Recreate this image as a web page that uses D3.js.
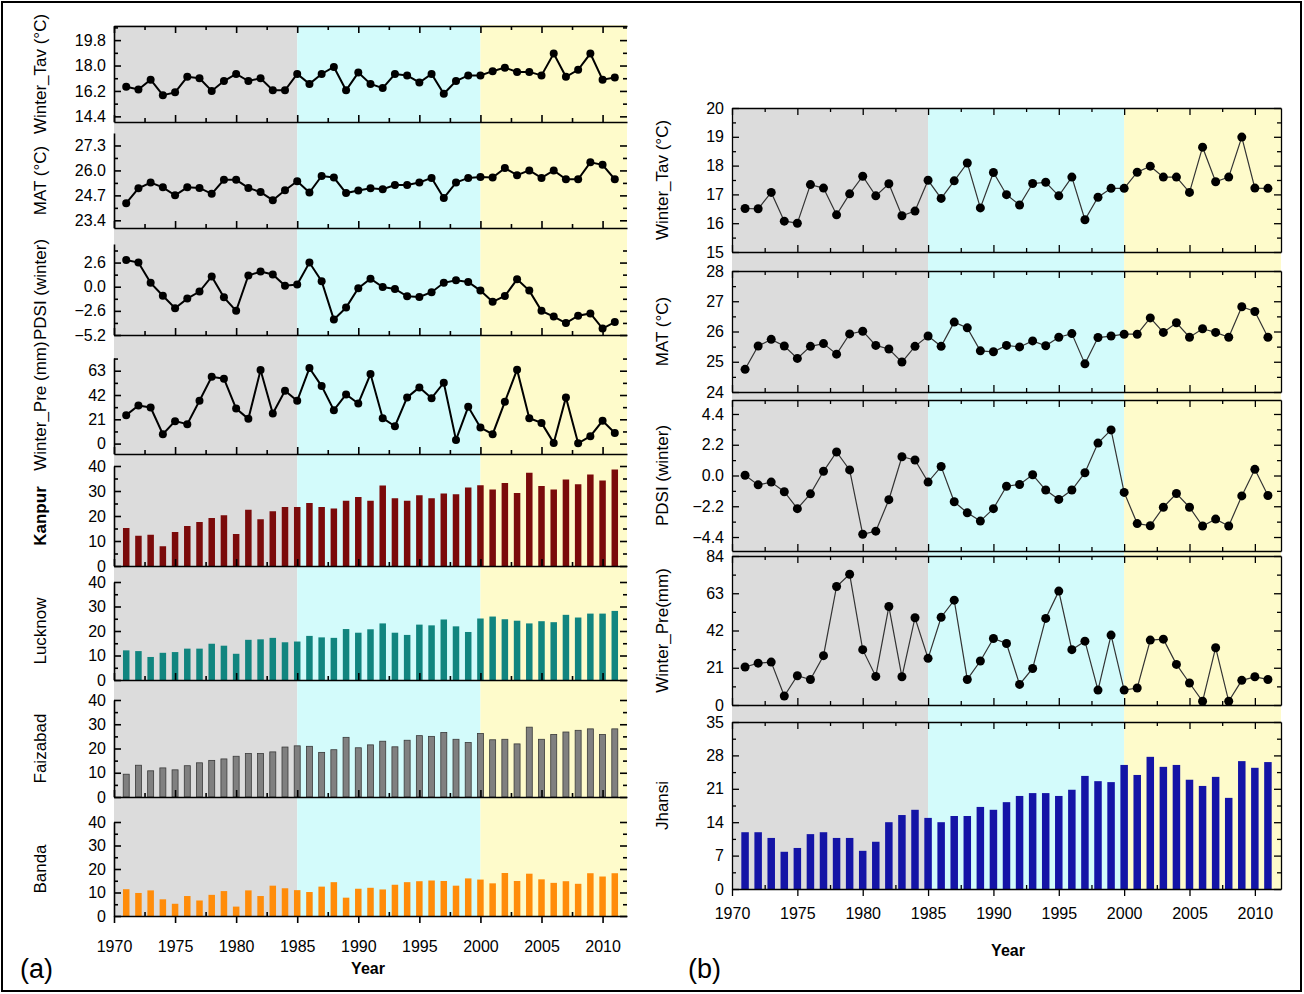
<!DOCTYPE html>
<html>
<head>
<meta charset="utf-8">
<script src="https://cdn.jsdelivr.net/npm/d3@7"></script>
<style>
  body { margin: 0; background: #fff; }
  svg { font-family: "Liberation Sans", Arial, sans-serif; }
</style>
</head>
<body>
<svg id="fig" width="1304" height="994"></svg>
<script>
// years shown in every panel
var years = [1971,1972,1973,1974,1975,1976,1977,1978,1979,1980,
             1981,1982,1983,1984,1985,1986,1987,1988,1989,1990,
             1991,1992,1993,1994,1995,1996,1997,1998,1999,2000,
             2001,2002,2003,2004,2005,2006,2007,2008,2009,2010,2011];
var yearTicks = [1970,1975,1980,1985,1990,1995,2000,2005,2010];
var yearMinor = [1972.5,1977.5,1982.5,1987.5,1992.5,1997.5,2002.5,2007.5];
var periods = [[1970,1985],[1985,2000],[2000,2012]];

// ---- panel (a) ----
var tavA = [16.5,16.3,17.0,15.9,16.1,17.2,17.1,16.2,16.9,17.4,
            16.9,17.1,16.25,16.25,17.4,16.7,17.4,17.9,16.25,17.5,
            16.7,16.4,17.4,17.3,16.8,17.4,16.0,16.9,17.3,17.3,
            17.6,17.85,17.55,17.55,17.3,18.85,17.2,17.7,18.85,17.0,17.15];
var matA = [24.29,25.07,25.37,25.12,24.7,25.12,25.09,24.78,25.51,25.51,
            25.09,24.87,24.45,24.97,25.44,24.85,25.71,25.63,24.82,24.95,
            25.07,25.02,25.24,25.24,25.37,25.61,24.56,25.37,25.61,25.66,
            25.63,26.12,25.75,26.0,25.61,26.0,25.54,25.54,26.42,26.29,25.54];
var pdsiA = [2.88,2.6,0.42,-0.97,-2.32,-1.28,-0.52,1.11,-1.14,-2.6,
             1.21,1.63,1.32,0.1,0.24,2.6,0.59,-3.54,-2.25,-0.17,
             0.87,-0.03,-0.24,-1.04,-1.11,-0.59,0.42,0.69,0.52,-0.42,
             -1.63,-1.0,0.8,-0.42,-2.6,-3.22,-3.92,-3.12,-2.88,-4.51,-3.81];
var preA = [24.6,32.9,31.2,8.1,19.4,16.8,37.0,57.8,56.1,30.3,
            21.4,63.6,26.0,45.7,37.0,65.3,49.7,28.9,42.5,34.7,
            60.1,22.0,15.0,39.9,48.6,39.3,52.6,3.2,31.8,13.9,
            8.1,36.1,63.9,22.0,17.9,0.6,39.9,0.3,6.4,19.7,9.2];
var kanpur = [15.2,12.1,12.5,7.9,13.6,16.0,17.6,19.2,20.3,12.8,
              22.5,18.7,21.9,23.6,23.6,25.2,23.6,23.0,26.1,27.6,
              26.1,32.2,27.1,26.1,28.3,27.1,29.0,28.7,31.4,32.3,
              30.6,33.2,29.2,37.3,32.0,30.6,34.6,32.7,36.6,34.2,38.6];
var lucknow = [12.1,11.8,9.4,11.1,11.4,12.8,12.8,14.8,14.0,10.7,
               16.4,16.6,17.2,15.4,15.7,18.0,17.4,17.2,20.8,19.3,
               20.7,23.1,19.3,18.4,22.6,22.3,24.7,21.9,19.6,25.1,
               25.9,24.8,24.2,23.1,24.0,23.6,26.6,25.5,27.1,27.1,28.2];
var faizabad = [9.4,13.1,10.8,12.0,11.2,12.9,14.1,15.1,15.7,16.8,
                17.9,17.9,18.6,20.6,21.1,20.9,18.4,19.5,24.6,20.3,
                21.5,23.0,20.7,23.4,25.3,25.0,26.6,23.8,22.5,26.2,
                23.6,23.8,21.9,28.8,23.8,25.8,26.8,27.5,28.1,25.8,28.1];
var banda = [11.4,9.8,10.9,7.1,5.2,8.5,6.6,9.0,10.6,4.0,
             10.9,8.5,12.9,11.8,11.0,10.2,12.5,14.4,7.8,11.6,
             12.0,11.3,13.3,14.4,14.8,15.1,14.9,12.9,16.0,15.5,
             13.9,18.3,14.9,18.0,15.6,14.1,14.8,13.7,18.2,16.8,18.2];

// ---- panel (b) ----
var tavB = [16.51,16.5,17.07,16.07,16.0,17.34,17.22,16.29,17.02,17.63,
            16.95,17.37,16.26,16.42,17.49,16.86,17.47,18.09,16.53,17.76,
            16.99,16.63,17.38,17.42,16.95,17.6,16.12,16.9,17.21,17.21,
            17.77,17.98,17.6,17.6,17.07,18.64,17.44,17.6,18.99,17.22,17.21];
var matB = [24.75,25.52,25.74,25.52,25.11,25.51,25.6,25.25,25.92,26.01,
            25.54,25.42,24.99,25.51,25.85,25.51,26.31,26.12,25.36,25.33,
            25.54,25.49,25.69,25.53,25.81,25.93,24.93,25.8,25.85,25.91,
            25.91,26.45,25.97,26.29,25.81,26.09,25.97,25.81,26.82,26.66,25.81];
var pdsiB = [0.02,-0.67,-0.47,-1.16,-2.37,-1.31,0.3,1.68,0.4,-4.2,
             -3.98,-1.73,1.34,1.11,-0.47,0.64,-1.88,-2.67,-3.26,-2.37,
             -0.77,-0.64,0.05,-1.04,-1.71,-1.04,0.2,2.32,3.26,-1.21,
             -3.44,-3.59,-2.27,-1.29,-2.27,-3.61,-3.12,-3.61,-1.46,0.44,-1.43];
var preB = [21.4,23.6,24.2,5.1,16.5,14.4,27.8,66.8,73.7,31.2,
            16.1,55.5,15.9,49.2,26.3,49.5,59.1,14.4,24.8,37.5,
            34.7,11.6,20.6,48.8,64.2,31.2,36.0,8.4,39.4,8.4,
            9.6,36.6,37.1,22.9,12.4,2.1,32.3,2.1,13.9,15.9,14.4];
var jhansi = [11.9,11.9,10.7,7.8,8.6,11.5,11.9,10.7,10.7,8.0,
              9.9,14.0,15.5,16.6,14.9,14.0,15.3,15.3,17.2,16.6,
              18.2,19.5,20.1,20.1,19.5,20.8,23.7,22.6,22.4,26.0,
              23.9,27.7,25.6,26.0,22.9,21.6,23.5,19.1,26.8,25.4,26.6];

var shadeColors = ['#dcdcdc', '#d3fbfb', '#fefbcb'];
var fmt1 = d3.format('.1f');

var svg = d3.select('#fig');

// outer frame
svg.append('rect')
  .attr('x', 2).attr('y', 2).attr('width', 1299).attr('height', 989)
  .attr('fill', 'none').attr('stroke', '#000').attr('stroke-width', 2);

var xa = d3.scaleLinear().domain([1970, 2012]).range([114, 627]);
var xb = d3.scaleLinear().domain([1970, 2012]).range([732, 1281]);

function shade(x, top, bottom) {
  svg.append('g').selectAll('rect').data(periods).enter().append('rect')
    .attr('x', function(d) { return x(d[0]); })
    .attr('width', function(d) { return x(d[1]) - x(d[0]); })
    .attr('y', top)
    .attr('height', bottom - top)
    .attr('fill', function(d, i) { return shadeColors[i]; });
}

function styleAxis(sel, w) {
  sel.selectAll('path').attr('stroke', '#000').attr('stroke-width', w);
  sel.selectAll('line').attr('stroke', '#000').attr('stroke-width', w);
  sel.selectAll('text').attr('fill', '#000').style('font-size', '16px');
}

function panel(x, p, full) {
  var y = d3.scaleLinear().domain(p.domain).range([p.bottom, p.top]);
  var x0 = x.range()[0], x1 = x.range()[1];
  var g = svg.append('g');
  var sw = full ? 1.3 : 1.6;

  if (p.type === 'bar') {
    g.selectAll('rect').data(p.values).enter().append('rect')
      .attr('x', function(d, i) { return x(years[i]) - p.bw / 2; })
      .attr('y', function(d) { return y(d); })
      .attr('width', p.bw)
      .attr('height', function(d) { return y(0) - y(d); })
      .attr('fill', p.color)
      .attr('stroke', p.stroke || 'none')
      .attr('stroke-width', 0.8);
  } else {
    var line = d3.line()
      .x(function(d, i) { return x(years[i]); })
      .y(function(d) { return y(d); });
    g.append('path').datum(p.values)
      .attr('d', line)
      .attr('fill', 'none')
      .attr('stroke', full ? '#333' : '#000')
      .attr('stroke-width', full ? 1.2 : 2);
    g.selectAll('circle').data(p.values).enter().append('circle')
      .attr('cx', function(d, i) { return x(years[i]); })
      .attr('cy', function(d) { return y(d); })
      .attr('r', full ? 4.5 : 4)
      .attr('fill', '#000');
  }

  // left axis
  var la = g.append('g').attr('transform', 'translate(' + x0 + ',0)')
    .call(d3.axisLeft(y).tickValues(p.major).tickSize(-7).tickSizeOuter(0)
      .tickPadding(8).tickFormat(p.fmt));
  styleAxis(la, sw);
  var lm = g.append('g').attr('transform', 'translate(' + x0 + ',0)')
    .call(d3.axisLeft(y).tickValues(p.minor).tickSize(-4).tickFormat(''));
  lm.select('.domain').remove();
  styleAxis(lm, sw);

  // right ticks
  var ra = g.append('g').attr('transform', 'translate(' + x1 + ',0)')
    .call(d3.axisRight(y).tickValues(p.major).tickSize(-7).tickSizeOuter(0).tickFormat(''));
  if (!full) ra.select('.domain').remove();
  styleAxis(ra, sw);
  var rm = g.append('g').attr('transform', 'translate(' + x1 + ',0)')
    .call(d3.axisRight(y).tickValues(p.minor).tickSize(-4).tickFormat(''));
  rm.select('.domain').remove();
  styleAxis(rm, sw);

  // bottom axis
  var ba = g.append('g').attr('transform', 'translate(0,' + p.bottom + ')')
    .call(d3.axisBottom(x).tickValues(yearTicks)
      .tickSize(p.labels ? 7 : -7).tickSizeOuter(0).tickPadding(p.pad || 8)
      .tickFormat(p.labels ? d3.format('d') : ''));
  styleAxis(ba, sw);
  var bm = g.append('g').attr('transform', 'translate(0,' + p.bottom + ')')
    .call(d3.axisBottom(x).tickValues(yearMinor).tickSize(-4).tickFormat(''));
  bm.select('.domain').remove();
  styleAxis(bm, sw);

  // top axis
  if (full || p.top0) {
    var ta = g.append('g').attr('transform', 'translate(0,' + p.top + ')')
      .call(d3.axisTop(x).tickValues(yearTicks).tickSize(-7).tickSizeOuter(0).tickFormat(''));
    styleAxis(ta, sw);
    var tm = g.append('g').attr('transform', 'translate(0,' + p.top + ')')
      .call(d3.axisTop(x).tickValues(yearMinor).tickSize(-4).tickFormat(''));
    tm.select('.domain').remove();
    styleAxis(tm, sw);
  }

  // y label
  svg.append('text')
    .attr('transform', 'translate(' + p.lx + ',' + ((p.top + p.bottom) / 2) + ') rotate(-90)')
    .attr('text-anchor', 'middle')
    .attr('dy', '0.35em')
    .style('font-size', '17px')
    .style('font-weight', p.bold ? 'bold' : 'normal')
    .text(p.label);
}

// ---------- (a) ----------
shade(xa, 25, 916);
var panelsA = [
  {type: 'line', values: tavA, domain: [14.0, 20.8], top: 26, bottom: 122,
   major: [14.4, 16.2, 18.0, 19.8], minor: [15.3, 17.1, 18.9, 20.7], fmt: fmt1,
   label: 'Winter_Tav (°C)', top0: true},
  {type: 'line', values: matA, domain: [23.0, 27.95], top: 133, bottom: 228,
   major: [23.4, 24.7, 26.0, 27.3], minor: [24.05, 25.35, 26.65], fmt: fmt1,
   label: 'MAT (°C)'},
  {type: 'line', values: pdsiA, domain: [-5.2, 4.6], top: 244, bottom: 335,
   major: [-5.2, -2.6, 0.0, 2.6], minor: [-3.9, -1.3, 1.3, 3.9], fmt: fmt1,
   label: 'PDSI (winter)'},
  {type: 'line', values: preA, domain: [-9, 74], top: 358, bottom: 454,
   major: [0, 21, 42, 63], minor: [10.5, 31.5, 52.5, 73.5], fmt: d3.format('d'),
   label: 'Winter_Pre (mm)'},
  {type: 'bar', values: kanpur, color: '#7b0b0b', bw: 6.5, domain: [0, 40], top: 466, bottom: 566,
   major: [0, 10, 20, 30, 40], minor: [5, 15, 25, 35], fmt: d3.format('d'),
   label: 'Kanpur', bold: true},
  {type: 'bar', values: lucknow, color: '#11857f', bw: 6.5, domain: [0, 40], top: 582, bottom: 680,
   major: [0, 10, 20, 30, 40], minor: [5, 15, 25, 35], fmt: d3.format('d'),
   label: 'Lucknow'},
  {type: 'bar', values: faizabad, color: '#808080', stroke: '#3a3a3a', bw: 6, domain: [0, 40], top: 700, bottom: 797,
   major: [0, 10, 20, 30, 40], minor: [5, 15, 25, 35], fmt: d3.format('d'),
   label: 'Faizabad'},
  {type: 'bar', values: banda, color: '#ff8c0a', bw: 6.5, domain: [0, 40], top: 822, bottom: 916,
   major: [0, 10, 20, 30, 40], minor: [5, 15, 25, 35], fmt: d3.format('d'),
   label: 'Banda', labels: true, pad: 18}
];
panelsA.forEach(function(p) { p.lx = 40; panel(xa, p, false); });

svg.append('text').attr('x', 368).attr('y', 974).attr('text-anchor', 'middle')
  .style('font-size', '16px').style('font-weight', 'bold').text('Year');
svg.append('text').attr('x', 20).attr('y', 978)
  .style('font-size', '27px').text('(a)');

// ---------- (b) ----------
shade(xb, 108, 889);
var panelsB = [
  {type: 'line', values: tavB, domain: [15, 20], top: 108, bottom: 252,
   major: [15, 16, 17, 18, 19, 20], minor: [15.5, 16.5, 17.5, 18.5, 19.5], fmt: d3.format('d'),
   label: 'Winter_Tav  (°C)'},
  {type: 'line', values: matB, domain: [24, 28], top: 271, bottom: 392,
   major: [24, 25, 26, 27, 28], minor: [24.5, 25.5, 26.5, 27.5], fmt: d3.format('d'),
   label: 'MAT (°C)'},
  {type: 'line', values: pdsiB, domain: [-5.4, 5.4], top: 400, bottom: 551,
   major: [-4.4, -2.2, 0.0, 2.2, 4.4], minor: [-3.3, -1.1, 1.1, 3.3], fmt: fmt1,
   label: 'PDSI (winter)'},
  {type: 'line', values: preB, domain: [0, 84], top: 556, bottom: 705,
   major: [0, 21, 42, 63, 84], minor: [10.5, 31.5, 52.5, 73.5], fmt: d3.format('d'),
   label: 'Winter_Pre(mm)'},
  {type: 'bar', values: jhansi, color: '#1414a6', bw: 7.5, domain: [0, 35], top: 722, bottom: 889,
   major: [0, 7, 14, 21, 28, 35], minor: [3.5, 10.5, 17.5, 24.5, 31.5], fmt: d3.format('d'),
   label: 'Jhansi', labels: true, pad: 12}
];
panelsB.forEach(function(p) { p.lx = 662; panel(xb, p, true); });

svg.append('text').attr('x', 1008).attr('y', 956).attr('text-anchor', 'middle')
  .style('font-size', '16px').style('font-weight', 'bold').text('Year');
svg.append('text').attr('x', 688).attr('y', 978)
  .style('font-size', '27px').text('(b)');
</script>
</body>
</html>
